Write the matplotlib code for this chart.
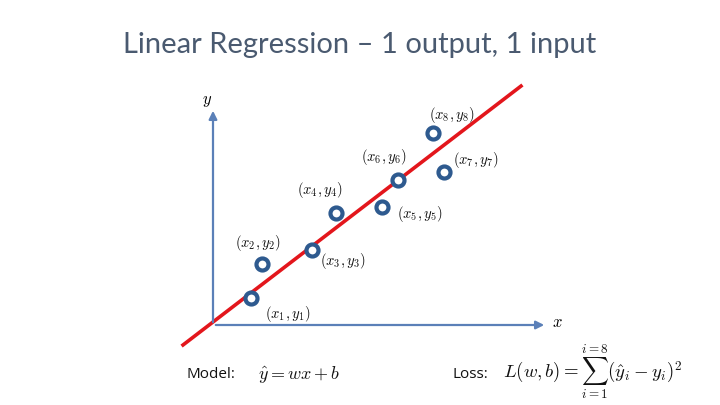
import matplotlib
matplotlib.use("Agg")
import matplotlib.pyplot as plt
import numpy as np

# Data (origin at axes intersection)
point_names = ["1", "2", "3", "4", "5", "6", "7", "8"]
xs = [38, 49, 99, 123, 169, 185, 231, 220]
ys = [27, 61, 75, 112, 118, 145, 153, 192]
label_dx = [37, -4, 31, -16, 38, -14, 32, 19]
label_dy = [-16, 21, -11, 23, -7, 23, 12, 18]
line_x = [-30, 308]
w, b = 0.766, 3.0

plt.rcParams['mathtext.fontset'] = 'cm'
fig = plt.figure(figsize=(7.2, 4.05), dpi=100)
ax = fig.add_axes([0, 0, 1, 1])
ax.set_xlim(-213, 507)
ax.set_ylim(-80, 325)
ax.axis('off')

axis_col = '#5b80b8'
ax.annotate('', xy=(0, 217), xytext=(0, 0),
            arrowprops=dict(arrowstyle='-|>', color=axis_col, lw=1.6, mutation_scale=12))
ax.annotate('', xy=(334, 0), xytext=(0, 0),
            arrowprops=dict(arrowstyle='-|>', color=axis_col, lw=1.6, mutation_scale=12))
ax.text(-6, 225, '$y$', fontsize=12, ha='center', va='center')
ax.text(344, 3, '$x$', fontsize=12, ha='center', va='center')

lx = np.array(line_x, dtype=float)
ax.plot(lx, w * lx + b, color='#e3161c', lw=2.6, zorder=2)

ax.scatter(xs, ys, s=75, facecolors='white', edgecolors='#2e5a8f', linewidths=3, zorder=3)

for n, x, y, dx, dy in zip(point_names, xs, ys, label_dx, label_dy):
    ax.text(x + dx, y + dy, r'$(x_{%s}, y_{%s})$' % (n, n), fontsize=10.5,
            ha='center', va='center', color='#111111')

fig.text(0.5, 1 - 45 / 405, 'Linear Regression – 1 output, 1 input',
         ha='center', va='center', fontsize=21, color='#4a5a70',
         family='Lato', fontweight='normal')

fig.text(186 / 720, 1 - 375 / 405, 'Model:', ha='left', va='center',
         fontsize=11, family='Open Sans', color='#111111')
fig.text(258 / 720, 1 - 375 / 405, r'$\hat{y} = wx + b$', ha='left', va='center',
         fontsize=13, color='#111111')
fig.text(453 / 720, 1 - 375 / 405, 'Loss:', ha='left', va='center',
         fontsize=11, family='Open Sans', color='#111111')
fig.text(503 / 720, 1 - 372 / 405, r'$L(w, b) = \sum_{i=1}^{i=8}(\hat{y}_i - y_i)^2$',
         ha='left', va='center', fontsize=13.5, color='#111111')

fig.savefig('out.png', dpi=100)
